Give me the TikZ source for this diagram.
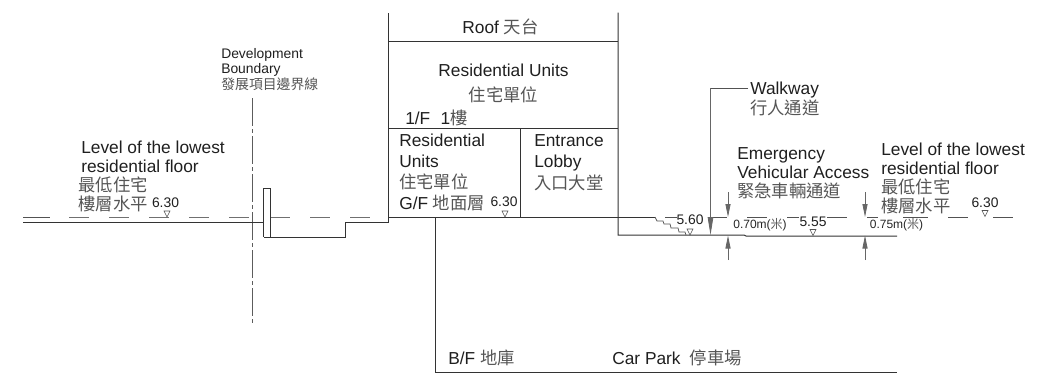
\documentclass[tikz,border=0pt]{standalone}
\usepackage{fontspec}
\setmainfont{Liberation Sans}
\newfontfamily\cjk{Noto Sans CJK TC}
\usetikzlibrary{arrows.meta}
\definecolor{ln}{HTML}{333333}
\definecolor{cj}{HTML}{555555}
\newcommand{\zh}[1]{{\cjk\color{cj}#1}}
\AtBeginDocument{\lineskiplimit=-20pt\relax\normallineskiplimit=-20pt\relax}
\tikzset{
  x=0.75pt,y=-0.75pt,
  wall/.style={draw=ln,line width=0.75pt},
  thin line/.style={draw=ln!85,line width=0.55pt},
  datum/.style={draw=ln!70,line width=0.5pt,dash pattern=on 15pt off 15pt},
  bound/.style={draw=ln!80,line width=0.7pt,dash pattern=on 21pt off 2.5pt on 2.5pt off 2.5pt},
  lab/.style={anchor=west,inner sep=0pt,align=left,text=black!88,font=\fontsize{13}{14.25}\selectfont},
  clab/.style={lab,anchor=center,align=center},
  small/.style={anchor=center,inner sep=0pt,text=black!88,font=\fontsize{10.4}{12}\selectfont},
  tiny/.style={anchor=center,inner sep=0pt,text=black!85,font=\fontsize{9}{10}\selectfont},
  mk/.style={draw=ln!85,line width=0.45pt},
  dimtip/.style={-{Triangle[length=9.75pt,width=3.8pt]},draw=ln!75,line width=0.6pt},
  bigtip/.style={-{Triangle[length=13.5pt,width=4.2pt]},draw=ln!75,line width=0.6pt},
}
\newcommand{\lvl}[2]{\draw[mk] (#1-3,#2-6) -- (#1+3,#2-6) -- (#1,#2) -- cycle;}
\begin{document}
\begin{tikzpicture}
\useasboundingbox (0,0) rectangle (1048,382);
% datum lines
\draw[thin line] (23,217.5) -- (50,217.5);
\path[datum] (69,217.5) -- (252,217.5);
\path[datum] (270,217.5) -- (388,217.5);
\draw[thin line] (618,217) -- (655,217);
\draw[thin line] (665,217) -- (677,217);
\draw[thin line] (712,217) -- (727,217);
\draw[thin line] (747,217) -- (767,217);
\draw[thin line] (787,217) -- (799,217);
\draw[thin line] (827,217) -- (847,217);
\draw[thin line] (867,217) -- (878,217);
\draw[thin line] (903,217) -- (928,217);
\draw[thin line] (948,217) -- (968,217);
\draw[thin line] (993,217) -- (1013,217);
% boundary
\path[bound] (252,98) -- (252,325);
% left ground and pit
\draw[wall] (23,222) -- (263.5,222);
\draw[wall] (263.5,237) -- (263.5,188) -- (270.5,188) -- (270.5,237) -- (263.5,237);
\draw[wall] (270.5,237) -- (345,237) -- (345,222) -- (388,222) -- (388,12.5);
% building
\draw[wall] (618,12.5) -- (618,235) -- (744,235) -- (746,236) -- (897,236);
\draw[wall] (388,41) -- (618,41);
\draw[wall] (388,128) -- (618,128);
\draw[wall] (520,128) -- (520,217);
\draw[wall] (388,217) -- (655,217);
% stairs
\draw[thin line] (655,217) -- (657,221) -- (663,221) -- (664,224) -- (670,224) -- (671,228) -- (678,228) -- (679,232) -- (685,232) -- (686,235);
% basement
\draw[wall] (435.5,217) -- (435.5,372.5) -- (897,372.5);
% walkway
\node[lab,font=\fontsize{13}{15}\selectfont] (walkway) at (750,98.5) {Walkway\\\zh{行人通道}};
\coordinate (wk0) at (748,88);
\coordinate (wk1) at (710.5,88);
\coordinate (wk2) at (710.5,235);
\draw[thin line] (wk0) -- (wk1);
\draw[bigtip] (wk1) -- (wk2);
% dimension arrows
\coordinate (d1a) at (728,192); \coordinate (d1b) at (728,217);
\coordinate (d1c) at (728,260); \coordinate (d1d) at (728,235.5);
\coordinate (d2a) at (865,192); \coordinate (d2b) at (865,217);
\coordinate (d2c) at (865,260); \coordinate (d2d) at (865,235.5);
\draw[dimtip] (d1a) -- (d1b);
\draw[dimtip] (d1c) -- (d1d);
\draw[dimtip] (d2a) -- (d2b);
\draw[dimtip] (d2c) -- (d2d);
% level marks
\lvl{167}{217}\lvl{505}{217}\lvl{690}{235}\lvl{813}{235.5}\lvl{985}{216.5}
% labels
\node[lab,font=\fontsize{10.4}{11.4}\selectfont] (dev) at (221,69.5) {Development\\Boundary\\\zh{發展項目邊界線}};
\node[lab] (lowl) at (81,176.5) {Level of the lowest\\residential floor\\\kern-2.2pt\zh{最低住宅}\\\kern-2.2pt\zh{樓層水平}};
\node[small] (l630) at (165.5,203) {6.30};
\node[clab] (roof) at (500.5,27) {Roof \zh{天台}};
\node[clab,font=\fontsize{13}{19}\selectfont] (res1) at (503.5,83.5) {Residential Units\\\zh{住宅單位}};
\node[lab] (ff) at (405,118) {1/F\hspace{0.6em}1\zh{樓}};
\node[lab,font=\fontsize{13}{15.75}\selectfont] (res0) at (399,172) {Residential\\Units\\\zh{住宅單位}\\G/F \zh{地面層}};
\node[small] (m630) at (504,202) {6.30};
\node[lab,font=\fontsize{13}{16.2}\selectfont] (lobby) at (534,162.5) {Entrance\\Lobby\\\zh{入口大堂}};
\node[small] (s560) at (690,220) {5.60};
\node[lab] (eva) at (737,173) {Emergency\\Vehicular Access\\\zh{緊急車輛通道}};
\node[tiny] (d070) at (760,225) {0.70m(\zh{米})};
\node[small] (s555) at (813,222) {5.55};
\node[tiny] (d075) at (896.5,225) {0.75m(\zh{米})};
\node[lab] (lowr) at (881,178) {Level of the lowest\\residential floor\\\zh{最低住宅}\\\zh{樓層水平}};
\node[small] (r630) at (985,203) {6.30};
\node[lab] (bf) at (448,358) {B/F \zh{地庫}};
\node[lab] (cp) at (612,358) {Car Park\hspace{0.25em} \zh{停車場}};
\end{tikzpicture}
\end{document}
